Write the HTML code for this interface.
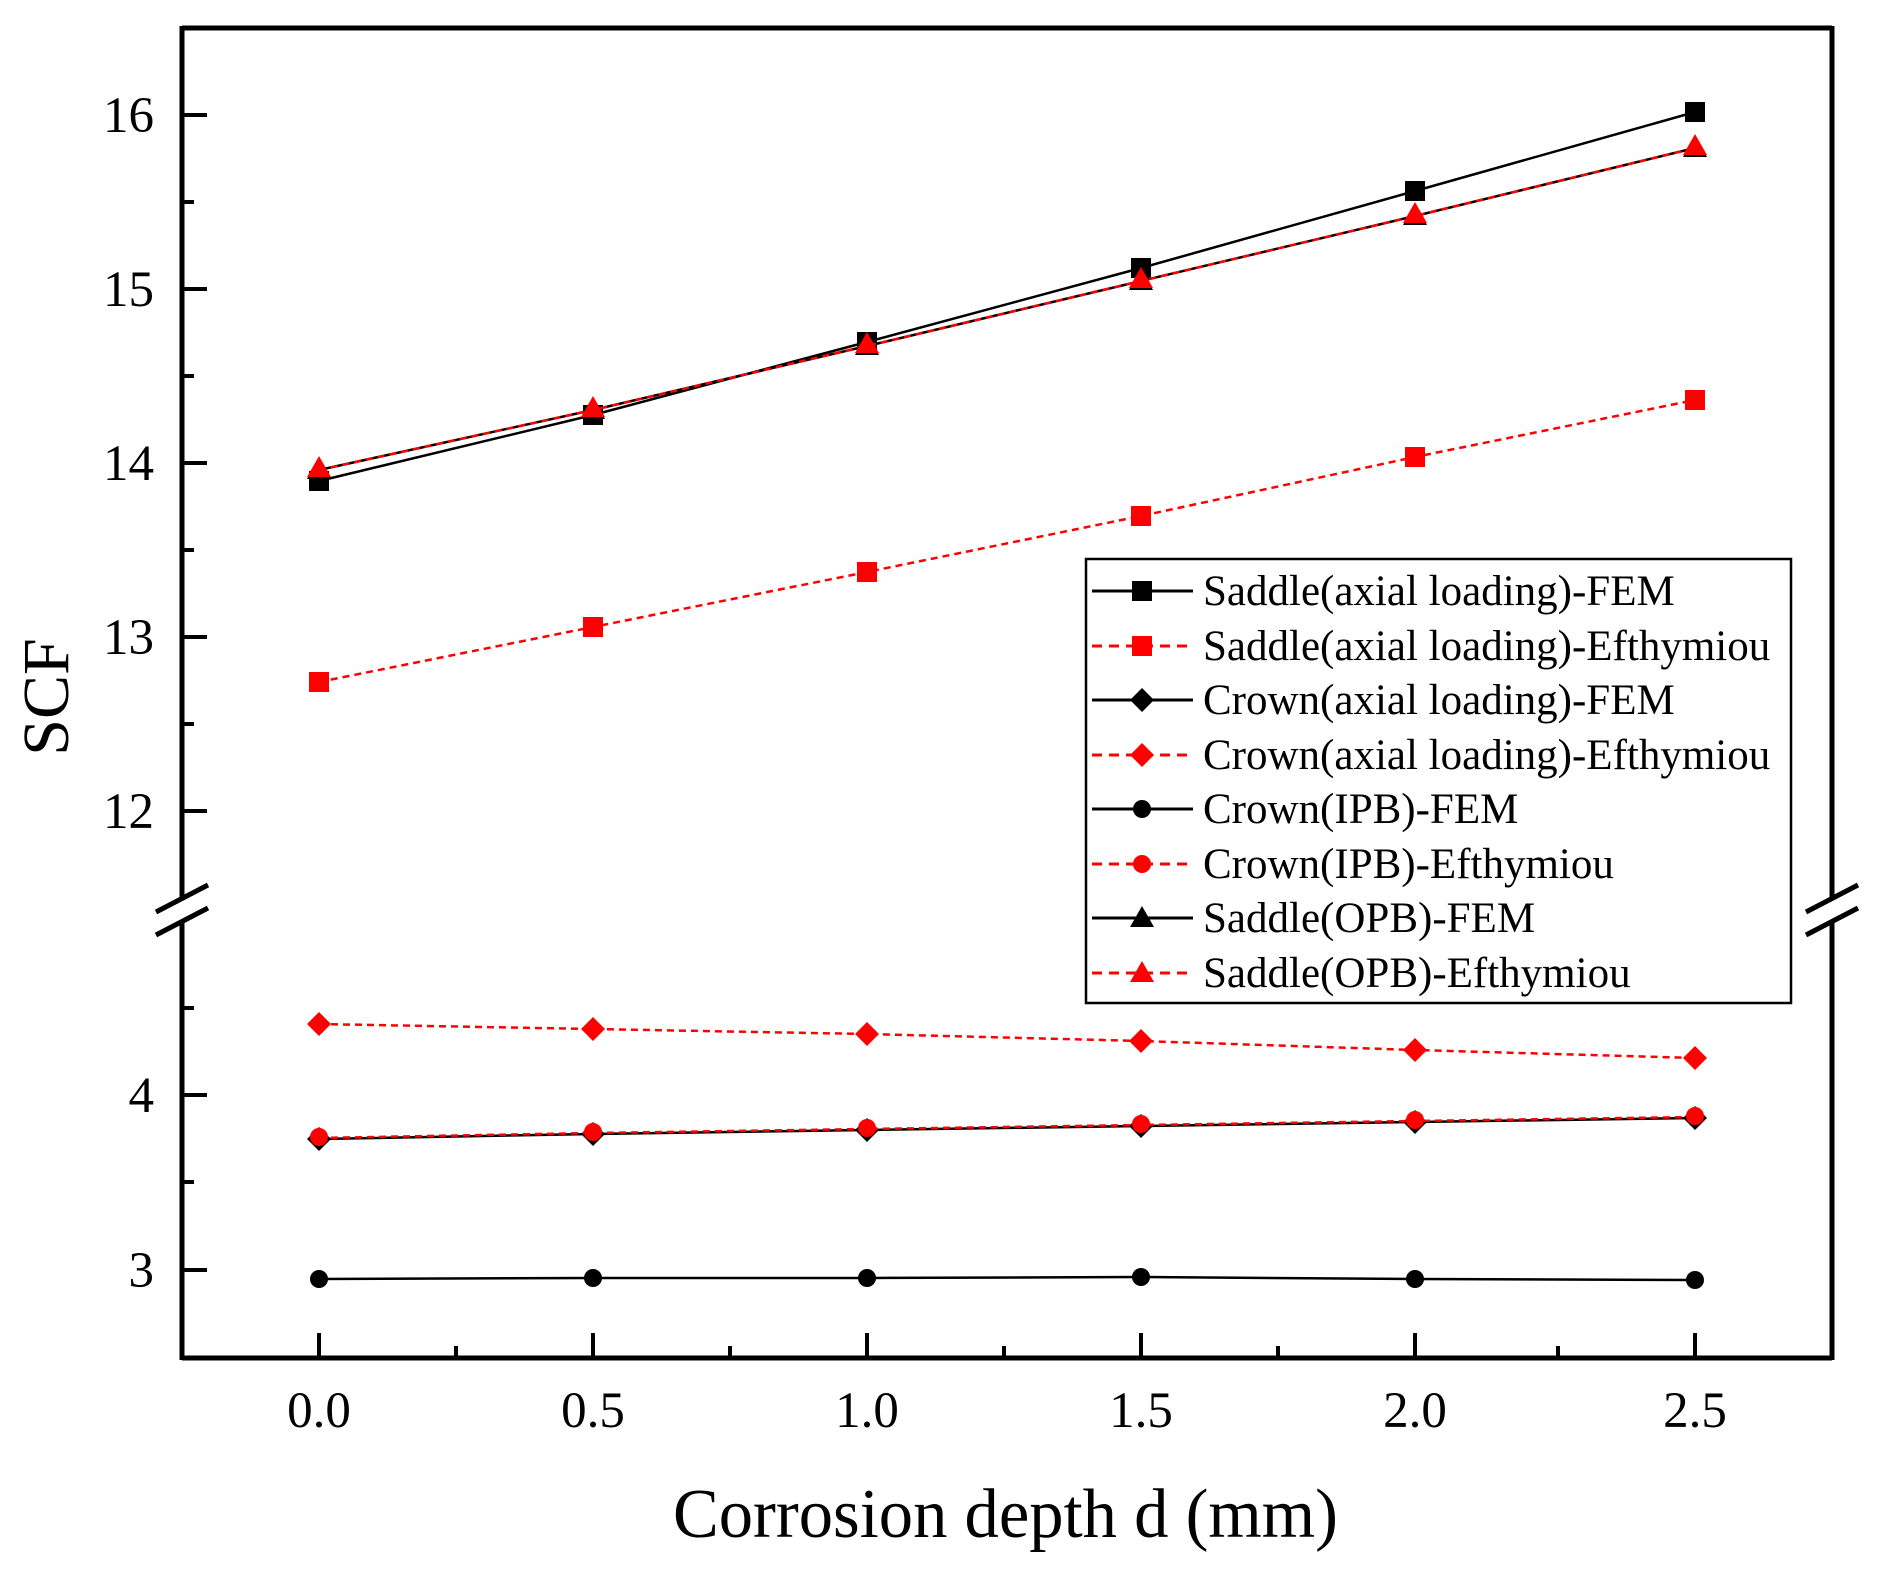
<!DOCTYPE html>
<html><head><meta charset="utf-8"><style>
html,body{margin:0;padding:0;background:#fff;}
svg{display:block;font-family:"Liberation Serif",serif;}
</style></head><body>
<svg width="1886" height="1576" viewBox="0 0 1886 1576" xmlns="http://www.w3.org/2000/svg">
<defs>
<g id="sq"><rect x="-10" y="-10" width="20" height="20"/></g>
<g id="di"><polygon points="0,-12 12,0 0,12 -12,0"/></g>
<g id="ci"><circle r="9"/></g>
<g id="tr"><polygon points="0,-12 12,9 -12,9"/></g>
</defs>
<rect width="1886" height="1576" fill="#fff"/>
<g stroke="#000" stroke-width="5" fill="none">
<line x1="182" y1="28" x2="1832" y2="28"/>
<line x1="182" y1="1358" x2="1832" y2="1358"/>
<line x1="182" y1="26" x2="182" y2="900"/>
<line x1="182" y1="921" x2="182" y2="1360"/>
<line x1="1832" y1="26" x2="1832" y2="900"/>
<line x1="1832" y1="921" x2="1832" y2="1360"/>
</g>
<g stroke="#000" stroke-width="5">
<line x1="156" y1="912" x2="208" y2="885"/>
<line x1="156" y1="935" x2="208" y2="908"/>
<line x1="1806" y1="912" x2="1858" y2="885"/>
<line x1="1806" y1="935" x2="1858" y2="908"/>
</g>
<g stroke="#000" stroke-width="4">
<line x1="182" y1="115" x2="207" y2="115"/>
<line x1="182" y1="289" x2="207" y2="289"/>
<line x1="182" y1="463" x2="207" y2="463"/>
<line x1="182" y1="637" x2="207" y2="637"/>
<line x1="182" y1="811" x2="207" y2="811"/>
<line x1="182" y1="202" x2="194" y2="202"/>
<line x1="182" y1="376" x2="194" y2="376"/>
<line x1="182" y1="550" x2="194" y2="550"/>
<line x1="182" y1="724" x2="194" y2="724"/>
<line x1="182" y1="1095" x2="207" y2="1095"/>
<line x1="182" y1="1270" x2="207" y2="1270"/>
<line x1="182" y1="1008" x2="194" y2="1008"/>
<line x1="182" y1="1182" x2="194" y2="1182"/>
<line x1="319" y1="1358" x2="319" y2="1333"/>
<line x1="593" y1="1358" x2="593" y2="1333"/>
<line x1="867" y1="1358" x2="867" y2="1333"/>
<line x1="1141" y1="1358" x2="1141" y2="1333"/>
<line x1="1415" y1="1358" x2="1415" y2="1333"/>
<line x1="1695" y1="1358" x2="1695" y2="1333"/>
<line x1="456" y1="1358" x2="456" y2="1346"/>
<line x1="730" y1="1358" x2="730" y2="1346"/>
<line x1="1004" y1="1358" x2="1004" y2="1346"/>
<line x1="1278" y1="1358" x2="1278" y2="1346"/>
<line x1="1558" y1="1358" x2="1558" y2="1346"/>
</g>
<g font-size="51" fill="#000" text-anchor="end">
<text x="154" y="132">16</text>
<text x="154" y="306">15</text>
<text x="154" y="480">14</text>
<text x="154" y="654">13</text>
<text x="154" y="828">12</text>
<text x="154" y="1112">4</text>
<text x="154" y="1287">3</text>
</g>
<g font-size="51" fill="#000" text-anchor="middle">
<text x="319" y="1427">0.0</text>
<text x="593" y="1427">0.5</text>
<text x="867" y="1427">1.0</text>
<text x="1141" y="1427">1.5</text>
<text x="1415" y="1427">2.0</text>
<text x="1695" y="1427">2.5</text>
</g>
<text x="673" y="1537" font-size="70" textLength="665" lengthAdjust="spacingAndGlyphs">Corrosion depth d (mm)</text>
<text transform="translate(68,697) rotate(-90)" font-size="66" text-anchor="middle">SCF</text>
<polyline fill="none" stroke="#f00" stroke-width="2.5" stroke-dasharray="7,5" points="319,682 593,627 867,572 1141,516 1415,457 1695,400"/>
<g fill="#f00"><use href="#sq" x="319" y="682"/><use href="#sq" x="593" y="627"/><use href="#sq" x="867" y="572"/><use href="#sq" x="1141" y="516"/><use href="#sq" x="1415" y="457"/><use href="#sq" x="1695" y="400"/></g>
<polyline fill="none" stroke="#000" stroke-width="2.5" points="319,481 593,415 867,342 1141,268 1415,191 1695,112"/>
<g fill="#000"><use href="#sq" x="319" y="481"/><use href="#sq" x="593" y="415"/><use href="#sq" x="867" y="342"/><use href="#sq" x="1141" y="268"/><use href="#sq" x="1415" y="191"/><use href="#sq" x="1695" y="112"/></g>
<polyline fill="none" stroke="#000" stroke-width="2.5" points="319,470 593,410 867,346 1141,281 1415,216 1695,148"/>
<g fill="#000"><use href="#tr" x="319" y="470"/><use href="#tr" x="593" y="410"/><use href="#tr" x="867" y="346"/><use href="#tr" x="1141" y="281"/><use href="#tr" x="1415" y="216"/><use href="#tr" x="1695" y="148"/></g>
<polyline fill="none" stroke="#f00" stroke-width="2.5" stroke-dasharray="7,5" points="319,470 593,410 867,346 1141,281 1415,216 1695,148"/>
<g fill="#f00"><use href="#tr" x="319" y="468"/><use href="#tr" x="593" y="408"/><use href="#tr" x="867" y="344"/><use href="#tr" x="1141" y="279"/><use href="#tr" x="1415" y="214"/><use href="#tr" x="1695" y="146"/></g>
<polyline fill="none" stroke="#f00" stroke-width="2.5" stroke-dasharray="7,5" points="319,1024 593,1029 867,1034 1141,1041 1415,1050 1695,1058"/>
<g fill="#f00"><use href="#di" x="319" y="1024"/><use href="#di" x="593" y="1029"/><use href="#di" x="867" y="1034"/><use href="#di" x="1141" y="1041"/><use href="#di" x="1415" y="1050"/><use href="#di" x="1695" y="1058"/></g>
<polyline fill="none" stroke="#000" stroke-width="2.5" points="319,1139 593,1134 867,1130 1141,1126 1415,1122 1695,1118"/>
<g fill="#000"><use href="#di" x="319" y="1139"/><use href="#di" x="593" y="1134"/><use href="#di" x="867" y="1130"/><use href="#di" x="1141" y="1126"/><use href="#di" x="1415" y="1122"/><use href="#di" x="1695" y="1118"/></g>
<polyline fill="none" stroke="#f00" stroke-width="2.5" stroke-dasharray="7,5" points="319,1138 593,1133 867,1129 1141,1125 1415,1121 1695,1117"/>
<g fill="#f00"><use href="#ci" x="319" y="1137"/><use href="#ci" x="593" y="1132"/><use href="#ci" x="867" y="1128"/><use href="#ci" x="1141" y="1124"/><use href="#ci" x="1415" y="1120"/><use href="#ci" x="1695" y="1116"/></g>
<polyline fill="none" stroke="#000" stroke-width="2.5" points="319,1279 593,1278 867,1278 1141,1277 1415,1279 1695,1280"/>
<g fill="#000"><use href="#ci" x="319" y="1279"/><use href="#ci" x="593" y="1278"/><use href="#ci" x="867" y="1278"/><use href="#ci" x="1141" y="1277"/><use href="#ci" x="1415" y="1279"/><use href="#ci" x="1695" y="1280"/></g>
<rect x="1086" y="559" width="705" height="444" fill="#fff" stroke="#000" stroke-width="2.5"/>
<g stroke-width="3" fill="none">
<line x1="1092" y1="591" x2="1193" y2="591" stroke="#000"/>
<line x1="1092" y1="646" x2="1193" y2="646" stroke="#f00" stroke-dasharray="10,7"/>
<line x1="1092" y1="700" x2="1193" y2="700" stroke="#000"/>
<line x1="1092" y1="755" x2="1193" y2="755" stroke="#f00" stroke-dasharray="10,7"/>
<line x1="1092" y1="809" x2="1193" y2="809" stroke="#000"/>
<line x1="1092" y1="864" x2="1193" y2="864" stroke="#f00" stroke-dasharray="10,7"/>
<line x1="1092" y1="918" x2="1193" y2="918" stroke="#000"/>
<line x1="1092" y1="973" x2="1193" y2="973" stroke="#f00" stroke-dasharray="10,7"/>
</g>
<use href="#sq" x="1142" y="591" fill="#000"/>
<use href="#sq" x="1142" y="646" fill="#f00"/>
<use href="#di" x="1142" y="700" fill="#000"/>
<use href="#di" x="1142" y="755" fill="#f00"/>
<use href="#ci" x="1142" y="809" fill="#000"/>
<use href="#ci" x="1142" y="864" fill="#f00"/>
<use href="#tr" x="1142" y="918" fill="#000"/>
<use href="#tr" x="1142" y="973" fill="#f00"/>
<g font-size="43" fill="#000">
<text x="1203" y="605">Saddle(axial loading)-FEM</text>
<text x="1203" y="660">Saddle(axial loading)-Efthymiou</text>
<text x="1203" y="714">Crown(axial loading)-FEM</text>
<text x="1203" y="769">Crown(axial loading)-Efthymiou</text>
<text x="1203" y="823">Crown(IPB)-FEM</text>
<text x="1203" y="878">Crown(IPB)-Efthymiou</text>
<text x="1203" y="932">Saddle(OPB)-FEM</text>
<text x="1203" y="987">Saddle(OPB)-Efthymiou</text>
</g>
</svg>
</body></html>
